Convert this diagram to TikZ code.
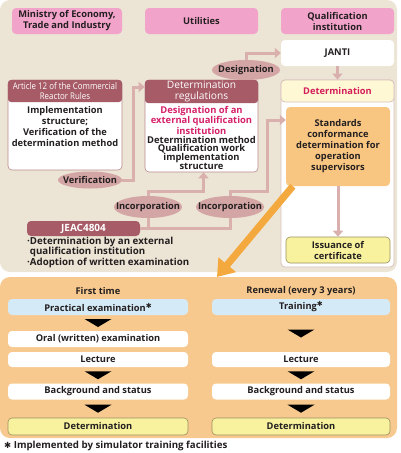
\documentclass[tikz,border=0pt]{standalone}
\usepackage{fontspec}
\setmainfont{Open Sans}
\newfontfamily\djv{DejaVu Sans}
\usetikzlibrary{arrows.meta,shapes.geometric,calc}
\definecolor{beige}{HTML}{ECE4D4}
\definecolor{pinkhdr}{HTML}{F2A3C9}
\definecolor{darkmauve}{HTML}{A65B67}
\definecolor{mauveline}{HTML}{B98A8E}
\definecolor{ellfill}{HTML}{D4A5A5}
\definecolor{connc}{HTML}{D9B0AD}
\definecolor{mag}{HTML}{D6206A}
\definecolor{crimson}{HTML}{D41E5A}
\definecolor{orangebox}{HTML}{F9C682}
\definecolor{orangepanel}{HTML}{F8C98E}
\definecolor{lyellow}{HTML}{FFF8D4}
\definecolor{yellowbox}{HTML}{F8F29E}
\definecolor{yellowline}{HTML}{9A9060}
\definecolor{lblue}{HTML}{D4EAF6}
\definecolor{contline}{HTML}{D9C2BE}
\definecolor{bigarrow}{HTML}{F4A93E}
\definecolor{txtc}{HTML}{231F20}
\begin{document}
\begin{tikzpicture}[x=1pt,y=-1pt,
  every node/.style={font=\fontsize{9.3}{11}\selectfont\bfseries, align=center, inner sep=0pt, text=txtc},
  hdr/.style={fill=pinkhdr, rounded corners=4, minimum width=113, minimum height=26},
  whitebox/.style={fill=white, rounded corners=4},
  darkhdr/.style={fill=darkmauve, rounded corners=3, text=white},
  ell/.style={minimum width=68, minimum height=22},
  conn/.style={draw=connc, line width=3pt, -{Triangle[width=10pt,length=6pt]}},
  connline/.style={draw=connc, line width=3pt},
  flowbox/.style={fill=white, rounded corners=4, minimum width=179, minimum height=16},
  bluebox/.style={flowbox, fill=lblue},
  yelbox/.style={flowbox, fill=yellowbox, draw=yellowline, line width=0.6pt},
  tri/.style={fill=black}
]
\useasboundingbox (0,0) rectangle (400,453);
% panels
\fill[beige, rounded corners=10] (0,0) rectangle (397,272);
\fill[orangepanel, rounded corners=10] (0,277) rectangle (397,438);

% headers
\node[hdr, minimum width=110] (meti) at (67,21) {Ministry of Economy,\\Trade and Industry};
\node[hdr] (util) at (201.5,21) {Utilities};
\node[hdr] (qual) at (337.5,21) {Qualification\\institution};

% JANTI
\node[whitebox, minimum width=113, minimum height=26] (janti) at (337.5,53) {JANTI};

% determination container
\node[whitebox, draw=contline, line width=0.8pt, minimum width=113, minimum height=187] (detcont) at (337.5,173.5) {};
\node[fill=lyellow, draw=contline, line width=0.8pt, rounded corners=4, minimum width=113, minimum height=22, text=crimson] (dethdr) at (337.5,91) {Determination};
\node[fill=orangebox, rounded corners=4, minimum width=104, minimum height=79] (std) at (338,146.5) {Standards\\conformance\\determination for\\operation\\supervisors};
\node[fill=yellowbox, draw=yellowline, line width=0.6pt, rounded corners=4, minimum width=104, minimum height=26] (iss) at (338,250) {Issuance of\\certificate};

% Article 12
\node[whitebox, draw=mauveline, line width=0.6pt, minimum width=114, minimum height=90] (art) at (65,125) {};
\node[darkhdr, minimum width=114, minimum height=22, font=\fontsize{9.2}{10.5}\selectfont] (arthdr) at (65,91) {\scalebox{0.86}[1]{Article 12 of the Commercial}\\\scalebox{0.86}[1]{Reactor Rules}};
\node (artbody) at (65,127) {Implementation\\structure;\\Verification of the\\determination method};

% Determination regulations
\node[whitebox, draw=mauveline, line width=0.6pt, minimum width=113, minimum height=92] (reg) at (201.5,126) {};
\node[darkhdr, minimum width=113, minimum height=23, font=\fontsize{10.2}{10.8}\selectfont] (reghdr) at (201.5,91.5) {Determination\\regulations};
\node[font=\fontsize{9.4}{8.9}\selectfont\bfseries] (regbody) at (201.5,138) {\textcolor{mag}{Designation of an}\\\textcolor{mag}{external qualification}\\\textcolor{mag}{institution}\\Determination method\\Qualification work\\implementation\\structure};

% ellipses
\fill[ellfill] (246,70) ellipse [x radius=34pt, y radius=10pt];
\node[ell, minimum height=20] (desig) at (246,70) {Designation};
\fill[ellfill] (90,180) ellipse [x radius=32pt, y radius=8.5pt];
\node[ell, minimum width=64, minimum height=17] (verif) at (90,180) {Verification};
\fill[ellfill] (148,207) ellipse [x radius=34pt, y radius=11pt];
\node[ell] (inc1) at (148,207) {Incorporation};
\fill[ellfill] (230,207) ellipse [x radius=34pt, y radius=11pt];
\node[ell] (inc2) at (230,207) {Incorporation};

% JEAC
\node[darkhdr, rounded corners=4, minimum width=113, minimum height=15, font=\fontsize{10}{11}\selectfont\bfseries] (jeac) at (83.5,228.5) {JEAC4804};
\node[anchor=north west, align=left, font=\fontsize{9.7}{10.8}\selectfont\bfseries] (bul) at (27,236.5) {·Determination by an external\\\phantom{·}qualification institution\\·Adoption of written examination};

% connectors
\draw[conn] (desig.north) |- (janti.west);
\draw[conn] (janti.south) -- (dethdr.north);
\coordinate (v1) at (133,87);
\draw[conn] (verif.east) -| (v1) -- (v1 -| reg.west);
\draw[connline] (jeac.east) -| (inc1.south);
\draw[connline] (jeac.east) -| (inc2.south);
\draw[conn] (inc1.north) -- ++(0,-4) -| ([xshift=2pt]reg.south);
\coordinate (c2) at (267,120);
\draw[conn] (inc2.north) -- ++(0,-4) -| (c2) -- (c2 -| std.west);
\draw[conn] (std.south) -- (iss.north);

% bottom flows
\node (ft) at (98,291) {First time};
\node (rn) at (301,291) {Renewal (every 3 years)};
\node[bluebox, minimum width=180] (pe) at (98,307) {Practical examination\raisebox{3pt}{\djv\fontsize{7}{7}\selectfont ✱}};
\node[flowbox, minimum width=180] (oral) at (98,339) {Oral (written) examination};
\node[flowbox, minimum width=180, minimum height=15] (lec1) at (98,359.5) {Lecture};
\node[flowbox, minimum width=180] (bg1) at (98,391.5) {Background and status};
\node[yelbox, minimum width=180, minimum height=17] (det1) at (98,426.5) {Determination};

\node[bluebox, minimum width=178] (tr) at (301,307) {Training\raisebox{3pt}{\djv\fontsize{7}{7}\selectfont ✱}};
\node[flowbox, minimum width=178, minimum height=15] (lec2) at (301,359.5) {Lecture};
\node[flowbox, minimum width=178] (bg2) at (301,391.5) {Background and status};
\node[yelbox, minimum width=178, minimum height=17] (det2) at (301,426.5) {Determination};

\foreach \a/\b in {pe/oral, lec1/bg1, bg1/det1, tr/lec2, lec2/bg2, bg2/det2}{
  \path (\a.south) -- (\b.north) coordinate[midway] (m);
  \fill[tri] ($(m)+(-13.5,-4)$) -- ($(m)+(13.5,-4)$) -- ($(m)+(0,4)$) -- cycle;
}

% footnote
\node[anchor=west, font=\fontsize{9.7}{10}\selectfont\bfseries] (fn) at (4,446) {{\djv\fontsize{8.5}{8}\selectfont ✱} Implemented by simulator training facilities};

% big orange arrow
\coordinate (oaend) at (217,277);
\draw[bigarrow, line width=7pt, -{Triangle[width=22pt,length=16pt]}] ([xshift=7pt]std.south west) -- (oaend);
\end{tikzpicture}
\end{document}
